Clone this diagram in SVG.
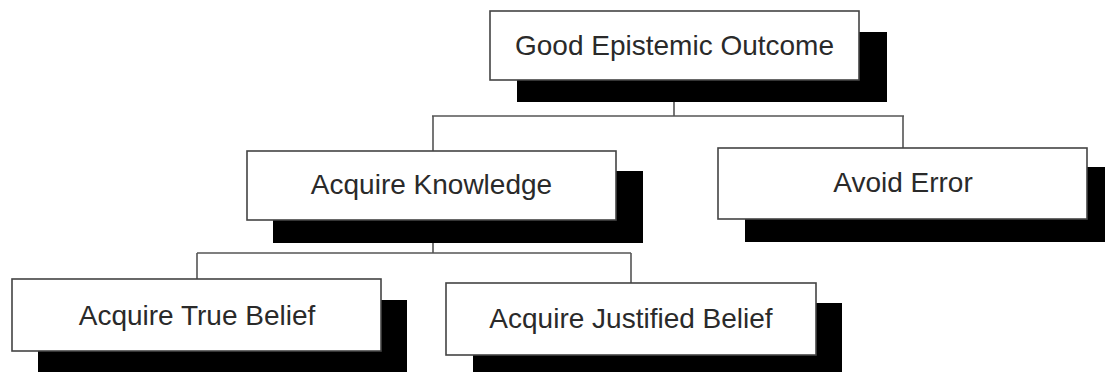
<svg xmlns="http://www.w3.org/2000/svg" width="1105" height="372" viewBox="0 0 1105 372">
<style>
.shadow{fill:#000}
.box{fill:#fff;stroke:#444;stroke-width:1.6}
.lbl{font-family:"Liberation Sans",Arial,sans-serif;font-size:28px;fill:#2a2a2a;text-anchor:middle}
.conn{fill:none;stroke:#555;stroke-width:1.6}
</style>
<rect width="1105" height="372" fill="#fff"/>
<g id="connectors">
<path class="conn" d="M674 102V116M432 116H904M433 116V151M903 116V148"/>
<path class="conn" d="M433 243V253M197 253H631M197 253V279M631 253V283"/>
</g>
<g id="n-good">
<rect class="shadow" x="517" y="32" width="370" height="70"/>
<rect class="box" x="490" y="11" width="369" height="69"/>
<text class="lbl" x="674.5" y="55">Good Epistemic Outcome</text>
</g>
<g id="n-knowledge">
<rect class="shadow" x="273" y="171" width="370" height="72"/>
<rect class="box" x="247" y="151" width="369" height="69"/>
<text class="lbl" x="431.5" y="194">Acquire Knowledge</text>
</g>
<g id="n-error">
<rect class="shadow" x="745" y="167" width="370" height="75"/>
<rect class="box" x="718" y="148" width="369" height="71"/>
<text class="lbl" x="903" y="192">Avoid Error</text>
</g>
<g id="n-true">
<rect class="shadow" x="38" y="300" width="369" height="80"/>
<rect class="box" x="12" y="279" width="369" height="72"/>
<text class="lbl" x="197" y="325">Acquire True Belief</text>
</g>
<g id="n-justified">
<rect class="shadow" x="473" y="303" width="369" height="80"/>
<rect class="box" x="446" y="283" width="370" height="72"/>
<text class="lbl" x="631" y="328">Acquire Justified Belief</text>
</g>
</svg>
